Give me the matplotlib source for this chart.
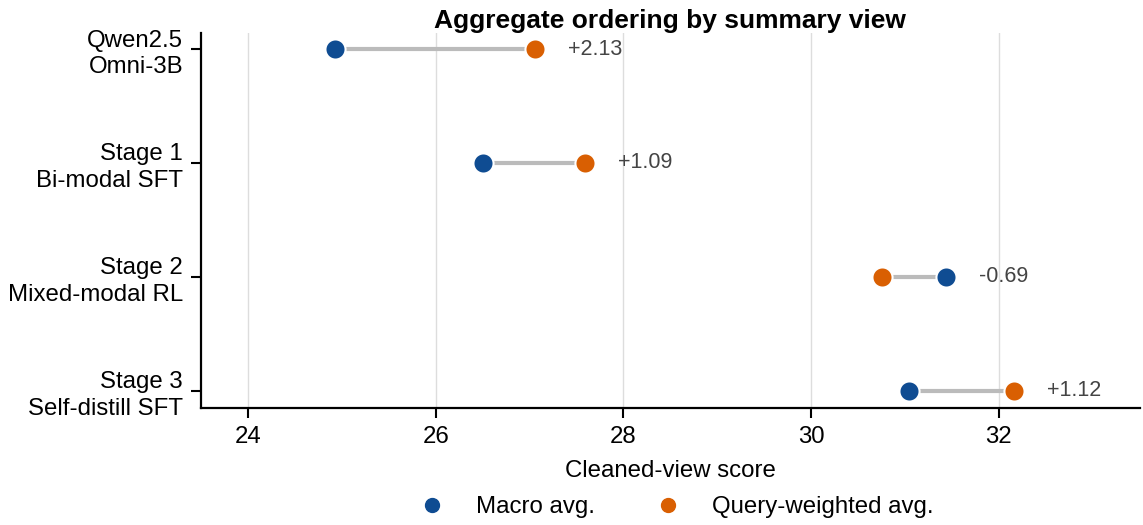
import matplotlib

matplotlib.use("Agg")
import matplotlib.pyplot as plt
from matplotlib.lines import Line2D

plt.rcParams["font.family"] = ["Liberation Sans", "DejaVu Sans"]

models = ["Qwen2.5\nOmni-3B", "Stage 1\nBi-modal SFT", "Stage 2\nMixed-modal RL", "Stage 3\nSelf-distill SFT"]
macro_avg = [24.93, 26.50, 31.44, 31.04]
query_avg = [27.06, 27.59, 30.75, 32.16]
deltas = ["+2.13", "+1.09", "-0.69", "+1.12"]

BLUE = "#0F4C92"
ORANGE = "#D95F02"
FS = 17.3

fig = plt.figure(figsize=(11.43, 5.25), dpi=100)
ax = fig.add_axes([0.176, 0.223, 0.821, 0.714])

for i, (m, q, d) in enumerate(zip(macro_avg, query_avg, deltas)):
    ax.plot([m, q], [i, i], color="#BBBBBB", linewidth=3, zorder=2, solid_capstyle="butt")
    ax.scatter([m], [i], s=210, color=BLUE, edgecolor="white", linewidth=1.5, zorder=3)
    ax.scatter([q], [i], s=210, color=ORANGE, edgecolor="white", linewidth=1.5, zorder=3)
    ax.text(max(m, q) + 0.35, i, d, ha="left", va="center", fontsize=15.5, color="#444444")

ax.set_yticks(range(len(models)))
ax.set_yticklabels(models, fontsize=FS, linespacing=1.25)
ax.set_ylim(3.15, -0.14)
ax.set_xlim(23.5, 33.5)
ax.set_xticks([24, 26, 28, 30, 32])
ax.tick_params(axis="x", labelsize=FS, length=7, width=1.5, pad=6)
ax.tick_params(axis="y", length=7, width=1.5, pad=6)
ax.grid(True, axis="x", color="#DDDDDD", linewidth=1)
ax.set_axisbelow(True)
for s in ["top", "right"]:
    ax.spines[s].set_visible(False)
for s in ["left", "bottom"]:
    ax.spines[s].set_linewidth(1.6)
ax.set_xlabel("Cleaned-view score", fontsize=FS, labelpad=9)
ax.set_title("Aggregate ordering by summary view", fontsize=19, fontweight="bold", pad=3)

legend = [
    Line2D([0], [0], marker="o", linestyle="none", markersize=10, color=BLUE, label="Macro avg."),
    Line2D([0], [0], marker="o", linestyle="none", markersize=10, color=ORANGE, label="Query-weighted avg."),
]
fig.legend(handles=legend, loc="center", bbox_to_anchor=(0.5866, 0.034), ncol=2, frameon=False,
           fontsize=FS, columnspacing=2.05, handletextpad=0.82, handlelength=2.0)

fig.savefig("out.png", dpi=100, facecolor="white")
plt.close(fig)
